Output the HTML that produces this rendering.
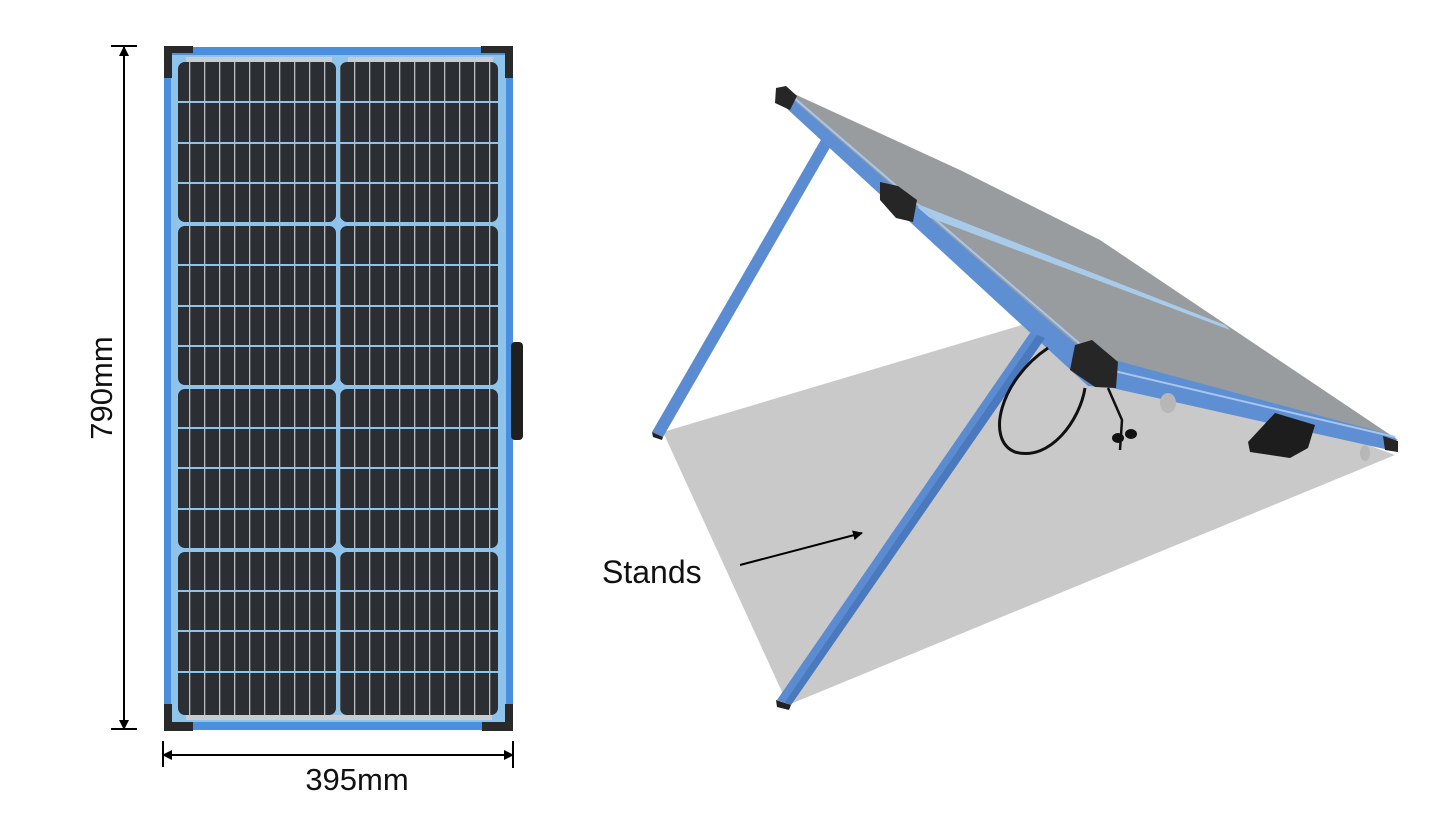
<!DOCTYPE html>
<html><head><meta charset="utf-8"><style>
html,body{margin:0;padding:0;background:#fff;}
svg{display:block;}
text{font-family:"Liberation Sans","DejaVu Sans",sans-serif;fill:#111;}
</style></head><body>
<svg width="1434" height="834" viewBox="0 0 1434 834" xmlns="http://www.w3.org/2000/svg">
<defs>
<pattern id="bus" x="178" y="0" width="15" height="834" patternUnits="userSpaceOnUse">
<rect x="11" y="0" width="1.3" height="834" fill="#b9bcc2"/>
</pattern>
<marker id="ah" markerWidth="10" markerHeight="10" refX="9" refY="5" orient="auto-start-reverse" markerUnits="userSpaceOnUse">
<path d="M0,0 L10,5 L0,10 Z" fill="#000"/>
</marker>
</defs>

<!-- LEFT PANEL -->
<rect x="164" y="47" width="349" height="683" fill="#4a8fde"/>
<rect x="171" y="55" width="335" height="667" fill="#8ec3ec"/>
<rect x="186" y="57" width="146" height="5" fill="#c9ccd0"/>
<rect x="348" y="57" width="145" height="5" fill="#c9ccd0"/>
<rect x="186" y="715" width="306" height="5" fill="#c9ccd0"/>
<g fill="#2b2e33">
<rect x="178" y="62" width="158" height="160" rx="7"/>
<rect x="340" y="62" width="158" height="160" rx="7"/>
<rect x="178" y="226" width="158" height="159" rx="7"/>
<rect x="340" y="226" width="158" height="159" rx="7"/>
<rect x="178" y="389" width="158" height="159" rx="7"/>
<rect x="340" y="389" width="158" height="159" rx="7"/>
<rect x="178" y="552" width="158" height="163" rx="7"/>
<rect x="340" y="552" width="158" height="163" rx="7"/>
</g>
<g fill="url(#bus)">
<rect x="178" y="62" width="158" height="653"/>
<rect x="340" y="62" width="158" height="653"/>
</g>
<g fill="#8ec3ec">
<rect x="178" y="101" width="320" height="2"/>
<rect x="178" y="142" width="320" height="2"/>
<rect x="178" y="182" width="320" height="2"/>
<rect x="178" y="264" width="320" height="2"/>
<rect x="178" y="305" width="320" height="2"/>
<rect x="178" y="345" width="320" height="2"/>
<rect x="178" y="427" width="320" height="2"/>
<rect x="178" y="467" width="320" height="2"/>
<rect x="178" y="508" width="320" height="2"/>
<rect x="178" y="590" width="320" height="2"/>
<rect x="178" y="630" width="320" height="2"/>
<rect x="178" y="671" width="320" height="2"/>
<rect x="178" y="222" width="320" height="4"/>
<rect x="178" y="385" width="320" height="4"/>
<rect x="178" y="548" width="320" height="4"/>
<rect x="336" y="62" width="4" height="653"/>
<rect x="332" y="218" width="11" height="11" transform="rotate(45 338 224)"/>
<rect x="332" y="381" width="11" height="11" transform="rotate(45 338 387)"/>
<rect x="332" y="544" width="11" height="11" transform="rotate(45 338 550)"/>
</g>
<g fill="#2a2a2a">
<path d="M164 46 H193 V53 H172 V78 H164 Z"/>
<path d="M513 46 H481 V53 H505 V78 H513 Z"/>
<path d="M164 731 H193 V722 H172 V704 H164 Z"/>
<path d="M513 731 H482 V722 H505 V704 H513 Z"/>
</g>
<rect x="511" y="342" width="12" height="98" rx="4" fill="#1f1f1f"/>

<!-- dimension lines -->
<g stroke="#000" stroke-width="2" fill="none">
<line x1="124" y1="47" x2="124" y2="729" marker-start="url(#ah)" marker-end="url(#ah)"/>
<line x1="111" y1="46" x2="137" y2="46"/>
<line x1="111" y1="729" x2="137" y2="729"/>
<line x1="163" y1="755" x2="513" y2="755" marker-start="url(#ah)" marker-end="url(#ah)"/>
<line x1="163" y1="741" x2="163" y2="767"/>
<line x1="513" y1="741" x2="513" y2="768"/>
</g>
<text x="0" y="0" font-size="31" text-anchor="middle" transform="translate(112 388) rotate(-90)">790mm</text>
<text x="357" y="790" font-size="31" text-anchor="middle">395mm</text>

<!-- RIGHT: shadow -->
<polygon points="663,432 1032,322 1395,455 788,705" fill="#c9c9c9"/>
<polygon points="822,138 832,144 663,437 652,432" fill="#5b8bd0"/>
<polygon points="652,432 663,437 662,440 653,437" fill="#222"/>
<polygon points="790,92 960,170 1100,240 1398,440 1390,440 1088,356 792,100" fill="#999c9f"/>
<polygon points="920,205 1225,325 1230,330 915,212" fill="#a8cbea"/>
<polygon points="790,97 1085,352 1395,436 1398,452 1112,388 1088,386 784,106" fill="#5f8fd3"/>
<line x1="792" y1="96" x2="1087" y2="350" stroke="#a6c6ec" stroke-width="2"/>
<line x1="1110" y1="370" x2="1395" y2="437" stroke="#a6c6ec" stroke-width="2"/>
<polygon points="776,88 786,86 797,96 790,110 775,103" fill="#262626"/>
<polygon points="880,182 898,186 917,200 913,222 896,218 880,200" fill="#262626"/>
<polygon points="1075,345 1092,340 1118,362 1116,388 1095,387 1070,370" fill="#262626"/>
<polygon points="1383,436 1398,441 1398,452 1385,450" fill="#262626"/>
<polygon points="1030,333 1045,338 791,705 777,700" fill="#5b8bd0"/>
<polygon points="1037,335 1045,338 791,705 785,702" fill="#4a79bd"/>
<polygon points="776,700 791,705 789,710 777,707" fill="#222"/>
<path d="M1048,348 C1000,380 985,440 1015,452 C1050,462 1080,420 1085,388" fill="none" stroke="#111" stroke-width="3"/>
<path d="M1108,388 L1122,420 L1120,450" fill="none" stroke="#111" stroke-width="2.5"/>
<ellipse cx="1118" cy="438" rx="6" ry="5" fill="#111"/>
<ellipse cx="1131" cy="434" rx="6" ry="5" fill="#111"/>
<ellipse cx="1168" cy="403" rx="8" ry="10" fill="#b7b7b7"/>
<ellipse cx="1365" cy="453" rx="5" ry="8" fill="#b7b7b7"/>
<polygon points="1275,413 1315,425 1308,448 1290,458 1250,452 1248,442" fill="#1d1d1d"/>

<text x="602" y="583" font-size="32">Stands</text>
<line x1="740" y1="565" x2="862" y2="533" stroke="#000" stroke-width="2" marker-end="url(#ah)"/>
</svg>
</body></html>
